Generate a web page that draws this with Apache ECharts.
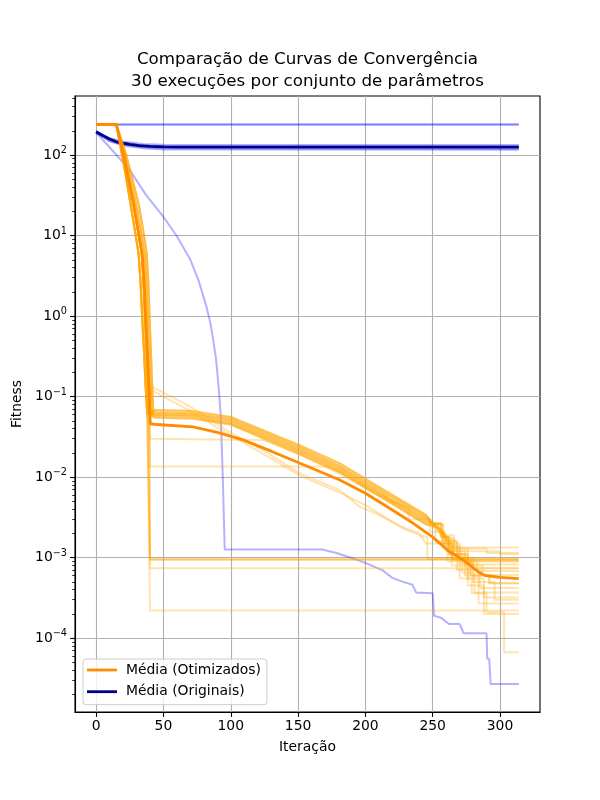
<!DOCTYPE html>
<html lang="pt">

<head>
    <meta charset="UTF-8">
    <title>Comparação de Curvas de Convergência</title>
    <style>
        html,
        body {
            margin: 0px;
            padding: 0px;
            background: #fff;
        }

        #main {
            width: 600px;
            height: 800px;
        }
    </style>
    <script src="https://cdn.jsdelivr.net/npm/echarts@6.0.0/dist/echarts.min.js"></script>
</head>

<body>
    <div id="main"></div>

    <script type="text/javascript">
        // ---- dados: [iteração, fitness] ----

        // marcas dos eixos
        var xTicks = [0, 50, 100, 150, 200, 250, 300];
        var yExponents = [-4, -3, -2, -1, 0, 1, 2];

        // execuções originais (azul)
        var origFlat = [[0, 240], [314, 240]];
        var origSmooth = [[0, 190], [10, 125], [25, 65], [37, 32], [50, 17], [60, 9.8], [70, 5], [76, 2.8], [82, 1.3],
            [85, 0.8], [87, 0.5], [89, 0.3], [91, 0.13], [92.5, 0.06], [94, 0.011], [95.5, 0.00126], [168, 0.00126],
            [173, 0.0012], [178, 0.00115], [183, 0.00108], [192, 0.00096], [200, 0.00086], [206, 0.00078],
            [212.6, 0.0007], [216, 0.00063], [220, 0.00056], [228, 0.0005], [235, 0.00046], [237.6, 0.00037],
            [250, 0.00036], [251, 0.00019], [256, 0.00018], [262, 0.00015], [270, 0.00015], [273, 0.000115],
            [290, 0.000115], [290.5, 0.000056], [292, 0.000055], [293, 0.000027], [314, 0.000027]];
        var origNear1 = [[0, 194], [10, 148], [20, 131], [35, 121], [50, 117], [314, 116]];
        var origNear2 = [[0, 190], [10, 162], [20, 147], [35, 137], [50, 134], [314, 133]];
        var origNear3 = [[0, 196], [10, 157], [20, 141], [35, 131], [50, 129], [314, 128]];
        var origNear4 = [[0, 187], [10, 151], [20, 135], [35, 125], [50, 121], [314, 120]];
        var meanOrig = [[0, 195], [5, 175], [10, 158], [15, 146], [20, 140], [25, 136], [32, 131], [40, 128],
            [50, 126], [60, 125], [314, 125]];

        // execuções otimizadas (laranja): queda inicial
        var descentA = [[0, 240], [15, 240], [19, 106], [22.5, 50], [25.5, 25], [28.8, 11.5], [31.5, 6], [33, 2.6], [34.3, 0.9], [35.7, 0.33], [36.8, 0.13], [38, 0.06]];
        var descentB = [[0, 240], [15, 240], [20, 106], [24, 50], [27.6, 25], [31, 11.5], [33.8, 6], [35.2, 2.6], [36.3, 0.9], [37.5, 0.33], [38.5, 0.13], [39.5, 0.06]];
        var descentC = [[0, 240], [15, 240], [21, 106], [25.5, 50], [29.6, 25], [33.2, 11.5], [36, 6], [37.3, 2.6], [38.3, 0.9], [39.4, 0.33], [40.3, 0.13], [41, 0.06]];
        var descentD = [[0, 240], [15, 240], [22, 106], [27, 50], [31.5, 25], [35, 11.5], [37.6, 6], [38.8, 2.6], [39.8, 0.9], [40.8, 0.33], [41.7, 0.13], [42.5, 0.06]];

        // faixa principal (x = 43, 72, 100, 151, 181, 218, 245)
        var mid1 = [[43, 0.068], [72, 0.066], [100, 0.056], [151, 0.025], [181, 0.0148], [218, 0.0063], [245, 0.0034]];
        var mid2 = [[43, 0.064], [72, 0.062], [100, 0.053], [151, 0.0235], [181, 0.0138], [218, 0.0059], [245, 0.0032]];
        var mid3 = [[43, 0.061], [72, 0.059], [100, 0.05], [151, 0.022], [181, 0.013], [218, 0.0055], [245, 0.003]];
        var mid4 = [[43, 0.058], [72, 0.056], [100, 0.047], [151, 0.0208], [181, 0.0122], [218, 0.0052], [245, 0.0028]];
        var mid5 = [[43, 0.055], [72, 0.053], [100, 0.045], [151, 0.0195], [181, 0.0115], [218, 0.0049], [245, 0.0026]];

        // finais em degraus
        var tail1 = [[252, 0.0026], [258, 0.0026], [258, 0.0017], [266, 0.0017], [266, 0.0013], [290, 0.0013], [290, 0.00114], [314, 0.00114]];
        var tail2 = [[250, 0.0027], [256, 0.0027], [256, 0.0018], [262, 0.0018], [262, 0.0011], [276, 0.0011], [276, 0.0009], [314, 0.0009]];
        var tail3 = [[254, 0.0025], [260, 0.0016], [268, 0.0016], [268, 0.001], [280, 0.001], [280, 0.00074], [314, 0.00074]];
        var tail4 = [[251, 0.0026], [259, 0.0021], [259, 0.0014], [270, 0.0014], [270, 0.0009], [283, 0.0009], [283, 0.00068], [314, 0.00068]];
        var tail5 = [[253, 0.0024], [262, 0.0017], [262, 0.0012], [274, 0.0012], [274, 0.0008], [287, 0.0008], [287, 0.00061], [314, 0.00061]];
        var tail6 = [[250, 0.0026], [257, 0.0026], [257, 0.0015], [265, 0.0015], [265, 0.00095], [278, 0.00095], [278, 0.0006], [292, 0.0006], [292, 0.00048], [314, 0.00048]];
        var tail7 = [[252, 0.0025], [260, 0.0019], [260, 0.0012], [268, 0.0012], [268, 0.0007], [285, 0.0007], [285, 0.00042], [314, 0.00042]];
        var tail8 = [[255, 0.0023], [263, 0.0016], [263, 0.0011], [272, 0.0011], [272, 0.00065], [281, 0.00065], [281, 0.00037], [314, 0.00037]];
        var tail9 = [[251, 0.0025], [258, 0.0018], [264, 0.0018], [264, 0.001], [276, 0.001], [276, 0.00055], [288, 0.00055], [288, 0.00032], [314, 0.00032]];
        var tail10 = [[254, 0.0023], [262, 0.0015], [270, 0.0015], [270, 0.00085], [280, 0.00085], [280, 0.0005], [296, 0.0005], [296, 0.0003], [314, 0.0003]];
        var tail11 = [[250, 0.0026], [256, 0.0019], [266, 0.0019], [266, 0.0011], [274, 0.0011], [274, 0.0006], [284, 0.0006], [284, 0.00027], [314, 0.00027]];
        var tail12 = [[253, 0.0024], [261, 0.0016], [261, 0.0009], [270, 0.0009], [270, 0.00055], [279, 0.00055], [279, 0.00036], [290, 0.00036], [290, 0.00021], [303, 0.00021], [303, 0.000067], [314, 0.000067]];
        var tail13 = [[256, 0.0022], [264, 0.0014], [264, 0.0008], [276, 0.0008], [276, 0.00045], [288, 0.00045], [288, 0.0002], [314, 0.0002]];

        // execuções fora da faixa principal
        var lower1 = [[41, 0.134], [70, 0.075], [96, 0.039], [125, 0.021], [151, 0.0112], [181, 0.0069], [195.6, 0.0043],
            [210, 0.0034], [225, 0.0025], [240, 0.002], [245, 0.0015], [262, 0.0015], [262, 0.00134], [314, 0.00134]];
        var lower2 = [[41, 0.12], [70, 0.066], [96, 0.036], [125, 0.019], [151, 0.0105], [181, 0.0064], [200, 0.0045],
            [214, 0.0032], [228, 0.0023], [240, 0.0019], [246, 0.0018], [246, 0.00097], [314, 0.00097]];
        var lower3 = [[40, 0.03], [124, 0.029], [151, 0.019], [181, 0.011], [218, 0.0049], [245, 0.0026], [252, 0.0024],
            [252, 0.0016], [268, 0.0016], [268, 0.0012], [300, 0.0012], [300, 0.0011], [314, 0.0011]];
        var lower4 = [[40, 0.0135], [175, 0.0135], [181, 0.0115], [200, 0.0076], [218, 0.0052], [232, 0.0041],
            [232, 0.003], [248, 0.003], [248, 0.0021], [258, 0.0021], [258, 0.0013], [276, 0.0013], [276, 0.00082], [314, 0.00082]];
        var flat1e3 = [[40, 0.00095], [314, 0.00095]];
        var flat74 = [[40, 0.00074], [314, 0.00074]];
        var flat22 = [[40, 0.00022], [314, 0.00022]];

        var meanOpt = [[0, 240], [15, 240], [20, 108], [24, 51], [27.8, 25], [31.3, 11.5], [34.2, 6], [35.7, 2.6],
            [36.9, 0.9], [38.1, 0.33], [39.2, 0.13], [40.2, 0.046], [45, 0.045], [72, 0.042], [90, 0.036], [109, 0.029],
            [130, 0.021], [151, 0.015], [181, 0.0092], [200, 0.0063], [218, 0.0041], [235, 0.0027], [250, 0.0018],
            [262, 0.0012], [270, 0.001], [278, 0.0008], [284, 0.00066], [289, 0.0006], [300, 0.00057], [314, 0.00055]];

        // ---- montagem ----
        var origRuns = [origFlat, origFlat, origSmooth, origNear1, origNear2, origNear3, origNear4];
        var optRuns = [
            descentA.concat(mid1, tail1), descentB.concat(mid2, tail2), descentC.concat(mid3, tail3),
            descentD.concat(mid4, tail4), descentA.concat(mid5, tail5), descentB.concat(mid1, tail6),
            descentC.concat(mid2, tail7), descentD.concat(mid3, tail8), descentA.concat(mid4, tail9),
            descentB.concat(mid5, tail10), descentC.concat(mid1, tail11), descentD.concat(mid2, tail12),
            descentC.concat(mid3, tail13), descentB.concat(mid4, tail2), descentD.concat(mid5, tail6),
            descentA.concat(lower1), descentB.concat(lower2), descentA.concat(lower3), descentB.concat(lower4),
            descentA.concat(flat1e3), descentB.concat(flat1e3), descentA.concat(flat1e3),
            descentB.concat(flat74), descentA.concat(flat22)
        ];

        var FONT = 'DejaVu Sans';
        var xMin = -15.7, xMax = 329.7;
        var yMin = -4.917, yMax = 2.733;

        // eixo y em log10
        function toLog(pts) {
            return pts.map(function (p) { return [p[0], Math.log10(p[1])]; });
        }

        // marcas menores 2..9 de cada década
        var minorTicks = [];
        for (var n = -5; n <= 2; n++) {
            for (var k = 2; k <= 9; k++) {
                var v = n + Math.log10(k);
                if (v > yMin && v < yMax) minorTicks.push(v);
            }
        }

        function lineSeries(name, pts, color, opacity, width) {
            return {
                name: name,
                type: 'line',
                data: toLog(pts),
                symbol: 'none',
                showSymbol: false,
                silent: true,
                animation: false,
                itemStyle: { color: color },
                lineStyle: { color: color, width: width, opacity: opacity }
            };
        }

        var series = [];
        origRuns.forEach(function (pts, i) {
            series.push(lineSeries('orig' + i, pts, '#0000ff', 0.3, 2));
        });
        series.push(lineSeries('Média (Originais)', meanOrig, '#00008b', 1, 2.8));
        optRuns.forEach(function (pts, i) {
            series.push(lineSeries('opt' + i, pts, '#ffa500', 0.3, 2));
        });
        series.push(lineSeries('Média (Otimizados)', meanOpt, '#ff8c00', 1, 2.8));

        function supLabel(value) {
            var e = Math.round(value);
            var s = e < 0 ? '\u2212' + (-e) : '' + e;
            return '{b|10}{s|' + s + '}';
        }

        var option = {
            backgroundColor: '#fff',
            animation: false,
            grid: {
                left: 75, top: 96, width: 465, height: 616,
                show: true, borderColor: '#000', borderWidth: 1.1, backgroundColor: 'transparent'
            },
            graphic: [
                {
                    type: 'text', x: 307.5, y: 60, silent: true,
                    style: { text: 'Comparação de Curvas de Convergência', fontFamily: FONT, fontSize: 16.7, fill: '#000', textAlign: 'center', textVerticalAlign: 'middle' }
                },
                {
                    type: 'text', x: 307.5, y: 82, silent: true,
                    style: { text: '30 execuções por conjunto de parâmetros', fontFamily: FONT, fontSize: 16.7, fill: '#000', textAlign: 'center', textVerticalAlign: 'middle' }
                }
            ],
            legend: {
                data: [{ name: 'Média (Otimizados)', icon: 'rect' }, { name: 'Média (Originais)', icon: 'rect' }],
                orient: 'vertical',
                left: 83, top: 659,
                itemWidth: 30, itemHeight: 2.8, itemGap: 5.7,
                padding: [3, 6, 5, 4],
                backgroundColor: 'rgba(255,255,255,0.8)',
                borderColor: '#cccccc', borderWidth: 1, borderRadius: 3,
                selectedMode: false,
                textStyle: { fontFamily: FONT, fontSize: 13.9, color: '#000', lineHeight: 16, padding: [0, 0, 0, 4] }
            },
            xAxis: [{
                type: 'value', min: xMin, max: xMax, position: 'bottom',
                axisLine: { show: true, onZero: false, lineStyle: { color: '#000', width: 1.1 } },
                axisTick: { show: true, inside: false, length: 4.9, customValues: xTicks, lineStyle: { color: '#000', width: 1.1 } },
                axisLabel: { customValues: xTicks, margin: 7, color: '#000', fontFamily: FONT, fontSize: 13.9 },
                splitLine: { show: true, lineStyle: { color: '#b0b0b0', width: 1.1 } },
                name: 'Iteração', nameLocation: 'middle', nameGap: 28,
                nameTextStyle: { fontFamily: FONT, fontSize: 13.9, color: '#000' }
            }],
            yAxis: [{
                type: 'value', min: yMin, max: yMax, position: 'left',
                axisLine: { show: true, onZero: false, lineStyle: { color: '#000', width: 1.1 } },
                axisTick: { show: true, inside: false, length: 4.9, customValues: yExponents, lineStyle: { color: '#000', width: 1.1 } },
                axisLabel: {
                    customValues: yExponents, margin: 8, color: '#000',
                    formatter: supLabel,
                    rich: {
                        b: { fontFamily: FONT, fontSize: 13.9, color: '#000' },
                        s: { fontFamily: FONT, fontSize: 9.7, color: '#000', padding: [0, 0, 9, 0] }
                    }
                },
                splitLine: { show: true, lineStyle: { color: '#b0b0b0', width: 1.1 } },
                name: 'Fitness', nameLocation: 'middle', nameGap: 45,
                nameTextStyle: { fontFamily: FONT, fontSize: 13.9, color: '#000' }
            }, {
                // só as marcas menores
                type: 'value', min: yMin, max: yMax, position: 'left',
                axisLine: { show: false, onZero: false },
                axisTick: { show: true, inside: false, length: 2.8, customValues: minorTicks, lineStyle: { color: '#000', width: 0.8 } },
                axisLabel: { show: false },
                splitLine: { show: false }
            }],
            series: series
        };

        var myChart = echarts.init(document.getElementById('main'));
        myChart.setOption(option);
    </script>
</body>

</html>
